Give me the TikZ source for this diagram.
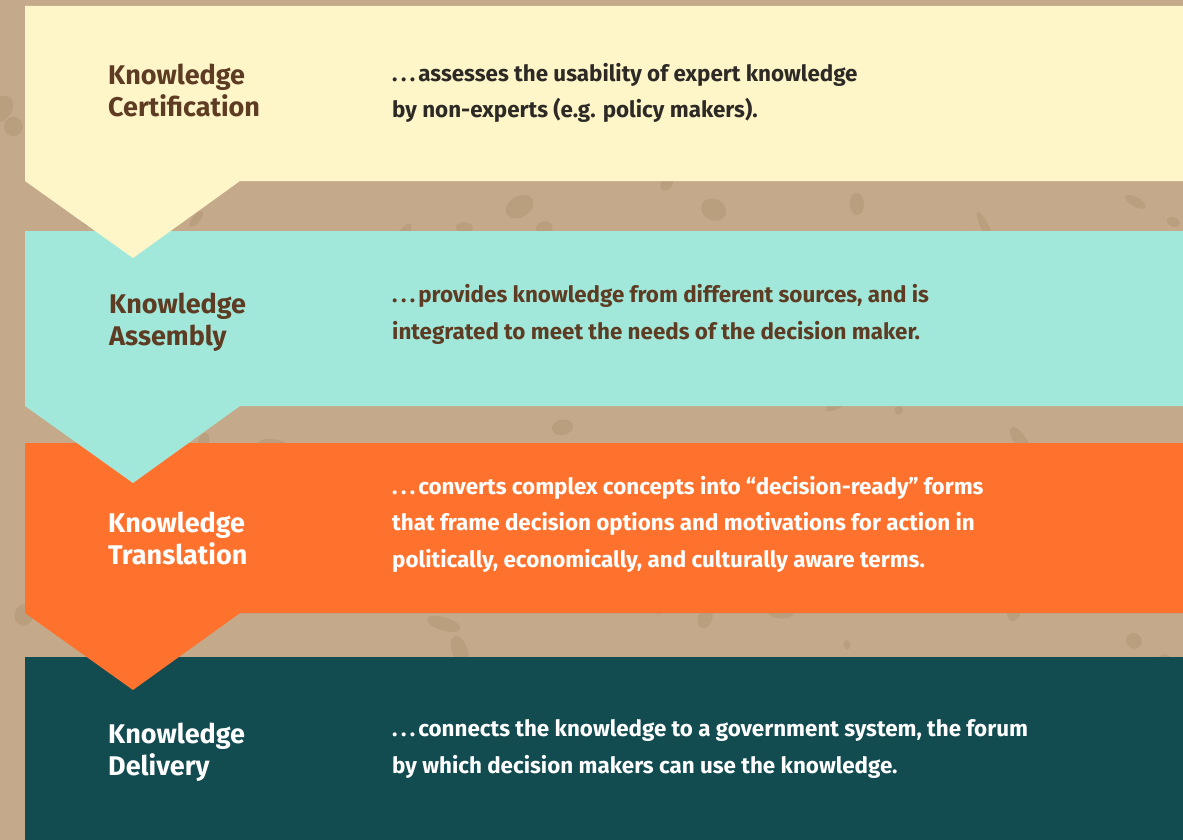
\documentclass[tikz,border=0pt]{standalone}
\usepackage{fontspec}
\setmainfont{Fira Sans}
\definecolor{tan}{HTML}{C4A98A}
\definecolor{tanspot}{HTML}{BA9F7F}
\definecolor{certfill}{HTML}{FEF6C9}
\definecolor{assemfill}{HTML}{A1E8DA}
\definecolor{transfill}{HTML}{FF722E}
\definecolor{delivfill}{HTML}{124B50}
\definecolor{brown}{HTML}{5E3B23}
\definecolor{ink}{HTML}{2D2A26}
\newcommand{\lead}{.\kern3.5pt.\kern3.5pt.\kern3pt}
\tikzset{
  title/.style={anchor=base west, inner sep=0pt, align=left, font=\bfseries\fontsize{27}{32}\selectfont},
  body/.style={anchor=base west, inner sep=0pt, align=left, font=\bfseries\fontsize{22.4}{36.5}\selectfont},
}
\begin{document}
\begin{tikzpicture}[x=1pt, y=-1pt]
    \useasboundingbox (0,0) rectangle (1183,840);
    \fill[tan] (0,0) rectangle (1183,840);
    % Texture
    \pgfmathsetseed{7}
    \foreach \i in {1,...,160} {
        \pgfmathsetmacro{\px}{1183*rnd}
        \pgfmathsetmacro{\py}{840*rnd}
        \pgfmathsetmacro{\ra}{4+14*rnd}
        \pgfmathsetmacro{\rb}{3+8*rnd}
        \pgfmathsetmacro{\rot}{180*rnd}
        \fill[tanspot, rotate around={\rot:(\px,\py)}] (\px,\py) ellipse ({\ra} and {\rb});
    }
    % Bands
    \fill[delivfill] (25,657) rectangle (1183,840);
    \fill[transfill] (25,443) -- (1183,443) -- (1183,613) -- (240,613) -- (133,690) -- (25,613) -- cycle;
    \fill[assemfill] (25,231) -- (1183,231) -- (1183,406) -- (240,406) -- (133,483) -- (25,406) -- cycle;
    \fill[certfill] (25,6) -- (1183,6) -- (1183,181) -- (240,181) -- (133,258) -- (25,181) -- cycle;
    % Titles (anchored at the last line)
    \node[title, text=brown] (certT) at (108,117) {Knowledge\\Certification};
    \node[title, text=brown] (assemT) at (109,345) {Knowledge\\Assembly};
    \node[title, text=white] (transT) at (108,564) {Knowledge\\Translation};
    \node[title, text=white] (delivT) at (108,775) {Knowledge\\Delivery};
    % Descriptions
    \node[body, text=ink] (certD) at (392,118) {\lead assesses the usability of expert knowledge\\by non-experts (e.g. policy makers).};
    \node[body, text=brown] (assemD) at (392,339) {\lead provides knowledge from different sources, and is\\integrated to meet the needs of the decision maker.};
    \node[body, text=white] (transD) at (392,567) {\lead converts complex concepts into “decision-ready” forms\\that frame decision options and motivations for action in\\politically, economically, and culturally aware terms.};
    \node[body, text=white] (delivD) at (392,773) {\lead connects the knowledge to a government system, the forum\\by which decision makers can use the knowledge.};
\end{tikzpicture}
\end{document}
